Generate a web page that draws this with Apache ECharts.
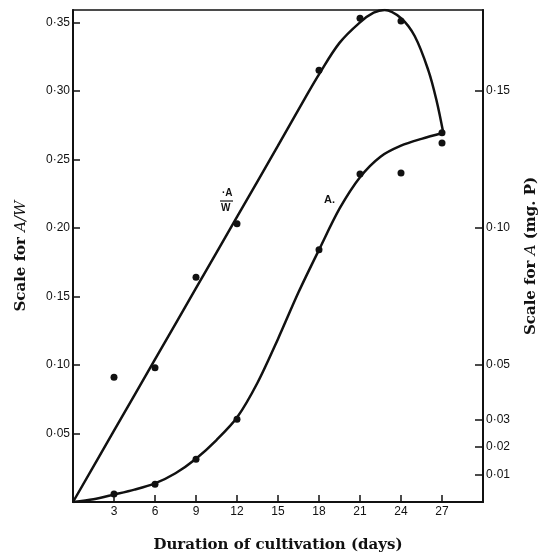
<!DOCTYPE html>
<html>
<head>
<meta charset="utf-8">
<script src="https://cdn.jsdelivr.net/npm/echarts@6/dist/echarts.min.js"></script>
<style>html,body{margin:0;padding:0;background:#fff}#c{width:547px;height:557px}</style>
</head>
<body>
<div id="c"></div>
<script>
// Days on the x axis
const xTicks = [3, 6, 9, 12, 15, 18, 21, 24, 27];
const leftTicks = [0.05, 0.10, 0.15, 0.20, 0.25, 0.30, 0.35];
const rightTicks = [0.01, 0.02, 0.03, 0.05, 0.10, 0.15];

// Observed A/W (left scale)
const awDays = [3, 6, 9, 12, 18, 21, 24, 27];
const awValues = [0.091, 0.098, 0.164, 0.203, 0.315, 0.353, 0.351, 0.262];
// Fitted A/W curve (left scale)
const awCurveDays = [0, 3, 6, 9, 12, 15, 17, 18, 19.5, 21, 22, 22.8, 24, 25, 26, 26.6, 27.1];
const awCurveValues = [0, 0.052, 0.104, 0.156, 0.208, 0.260, 0.295, 0.312, 0.335, 0.350, 0.357, 0.359, 0.353, 0.340, 0.315, 0.293, 0.269];

// Observed A (right scale, mg. P)
const aDays = [3, 6, 9, 12, 18, 21, 24, 27];
const aValues = [0.0029, 0.0065, 0.0156, 0.0302, 0.092, 0.1197, 0.120, 0.1347];
// Fitted A curve (right scale)
const aCurveDays = [0, 1.5, 3, 4.5, 6, 7.5, 9, 10.5, 12, 13.5, 15, 16.5, 18, 19.5, 21, 22.5, 24, 25.5, 27.1];
const aCurveValues = [0, 0.0010, 0.0027, 0.0045, 0.0068, 0.0105, 0.0158, 0.0226, 0.0308, 0.0435, 0.0595, 0.0765, 0.0920, 0.1070, 0.1185, 0.1260, 0.1300, 0.1325, 0.1347];

const zip = (xs, ys) => xs.map((x, i) => [x, ys[i]]);
const fmt = v => v.toFixed(2).replace('.', '\u00b7');

const sansLabel = { color: '#111', fontFamily: 'Liberation Sans', fontSize: 12 };
const titleStyle = { color: '#111', fontFamily: 'DejaVu Serif', fontWeight: 'bold', fontSize: 15 };
const italicRich = { i: { fontFamily: 'DejaVu Serif', fontStyle: 'italic', fontWeight: 'normal', fontSize: 15, color: '#111' } };

const chart = echarts.init(document.getElementById('c'), null, { renderer: 'canvas' });
chart.setOption({
  animation: false,
  backgroundColor: '#fff',
  grid: { left: 73, right: 64, top: 10, bottom: 55, outerBoundsMode: 'none', containLabel: false,
    show: true, borderColor: '#111', borderWidth: 1.5, backgroundColor: 'transparent' },
  xAxis: {
    type: 'value', min: 0, max: 30,
    name: 'Duration of cultivation (days)', nameLocation: 'middle', nameGap: 36,
    nameTextStyle: titleStyle,
    axisLine: { lineStyle: { color: '#111', width: 2 } },
    axisTick: { inside: true, length: 7, lineStyle: { color: '#111', width: 1.5 }, customValues: xTicks },
    axisLabel: Object.assign({}, sansLabel, { margin: 4, customValues: xTicks, formatter: v => String(v) }),
    splitLine: { show: false }
  },
  yAxis: [
    {
      type: 'value', min: 0, max: 0.359, position: 'left',
      name: 'Scale for {i|A/W}', nameLocation: 'middle', nameGap: 44, nameRotate: 90,
      nameTextStyle: Object.assign({}, titleStyle, { rich: italicRich }),
      axisLine: { show: true, lineStyle: { color: '#111', width: 2 } },
      axisTick: { show: true, inside: true, length: 7, lineStyle: { color: '#111', width: 1.5 }, customValues: leftTicks },
      axisLabel: Object.assign({}, sansLabel, { margin: 3, customValues: leftTicks, formatter: fmt }),
      splitLine: { show: false }
    },
    {
      type: 'value', min: 0, max: 0.1795, position: 'right',
      name: 'Scale for {i|A} (mg. P)', nameLocation: 'middle', nameGap: 41, nameRotate: 90,
      nameTextStyle: Object.assign({}, titleStyle, { rich: italicRich }),
      axisLine: { show: true, lineStyle: { color: '#111', width: 2 } },
      axisTick: { show: true, inside: true, length: 8, lineStyle: { color: '#111', width: 1.5 }, customValues: rightTicks },
      axisLabel: Object.assign({}, sansLabel, { margin: 3, customValues: rightTicks, formatter: fmt }),
      splitLine: { show: false }
    }
  ],
  series: [
    { type: 'line', yAxisIndex: 0, data: zip(awCurveDays, awCurveValues), smooth: 0.35, symbol: 'none',
      lineStyle: { color: '#111', width: 2.5 } },
    { type: 'scatter', yAxisIndex: 0, data: zip(awDays, awValues), symbolSize: 7, itemStyle: { color: '#111', opacity: 1 } },
    { type: 'line', yAxisIndex: 1, data: zip(aCurveDays, aCurveValues), smooth: 0.3, symbol: 'none',
      lineStyle: { color: '#111', width: 2.5 } },
    { type: 'scatter', yAxisIndex: 1, data: zip(aDays, aValues), symbolSize: 7, itemStyle: { color: '#111', opacity: 1 } }
  ],
  graphic: [
    { type: 'text', left: 222, top: 188, style: { text: '\u00b7A', font: 'bold 10px "Liberation Sans"', fill: '#111' } },
    { type: 'line', shape: { x1: 220, y1: 201, x2: 233, y2: 201 }, style: { stroke: '#111', lineWidth: 1.2 } },
    { type: 'text', left: 221, top: 203, style: { text: 'W', font: 'bold 10px "Liberation Sans"', fill: '#111' } },
    { type: 'text', left: 324, top: 194, style: { text: 'A.', font: 'bold 11px "Liberation Sans"', fill: '#111' } }
  ]
});
</script>
</body>
</html>
